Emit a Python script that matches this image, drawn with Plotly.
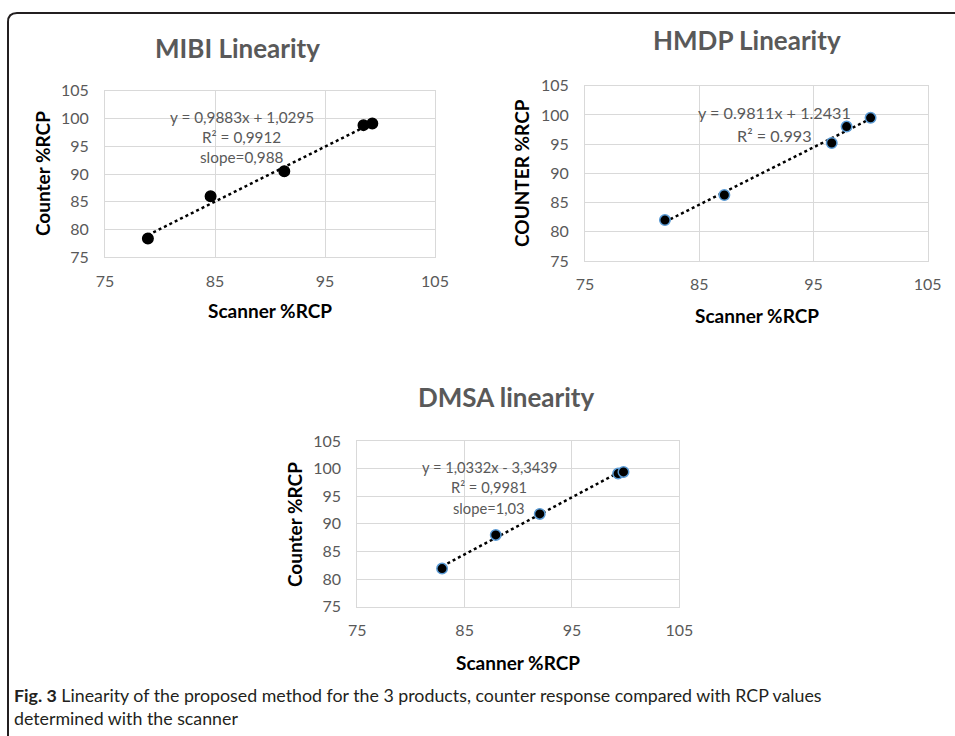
import plotly.graph_objects as go

W, H = 955, 736

# ---- data ----
mibi_x = [78.9, 84.6, 91.3, 98.5, 99.3]
mibi_y = [78.4, 86.0, 90.5, 98.8, 99.1]
mibi_fit = (0.9883, 1.0295)

hmdp_x = [82.0, 87.2, 96.6, 97.9, 100.0]
hmdp_y = [82.0, 86.3, 95.2, 98.0, 99.5]
hmdp_fit = (0.9811, 1.2431)

dmsa_x = [82.9, 87.9, 92.0, 99.3, 99.8]
dmsa_y = [81.9, 88.0, 91.8, 99.1, 99.4]
dmsa_fit = (1.0332, -3.3439)

tick_vals = [75, 85, 95, 105]
ytick_vals = [75, 80, 85, 90, 95, 100, 105]

FONT = "Lato"
GRAY = "#595959"
GRID = "#D9D9D9"

def px(x):
    return x / W

def py(y):
    return 1 - y / H

fig = go.Figure()

panels = [
    ("MIBI", mibi_x, mibi_y, mibi_fit, "", (105, 435, 90.7, 257.3), "black"),
    ("HMDP", hmdp_x, hmdp_y, hmdp_fit, "2", (585, 927.7, 85.7, 261), "#5B9BD5"),
    ("DMSA", dmsa_x, dmsa_y, dmsa_fit, "3", (357.3, 679.3, 441, 606.7), "#5B9BD5"),
]

for name, xs, ys, fit, sfx, box, outline in panels:
    m, b = fit
    x0, x1 = min(xs), max(xs)
    fig.add_trace(go.Scatter(
        x=[x0, x1], y=[m * x0 + b, m * x1 + b], mode="lines",
        line=dict(color="black", width=2.5, dash="dot"),
        xaxis="x" + sfx, yaxis="y" + sfx, showlegend=False, hoverinfo="skip"))
    fig.add_trace(go.Scatter(
        x=xs, y=ys, mode="markers",
        marker=dict(color="black", size=10.5, line=dict(color=outline, width=1.5)),
        xaxis="x" + sfx, yaxis="y" + sfx, showlegend=False, name=name))
    l, r, t, btm = box
    common = dict(showgrid=True, gridcolor=GRID, gridwidth=1, zeroline=False,
                  showline=True, linecolor=GRID, linewidth=1, mirror=True,
                  ticks="", tickfont=dict(family=FONT, size=16, color=GRAY),
                  automargin=False)
    fig.layout["xaxis" + sfx] = dict(
        domain=[px(l), px(r)], range=[75, 105], tickvals=tick_vals,
        anchor="y" + sfx, ticklabelstandoff=9, **common)
    fig.layout["yaxis" + sfx] = dict(
        domain=[py(btm), py(t)], range=[75, 105], tickvals=ytick_vals,
        anchor="x" + sfx, ticklabelstandoff=12, **common)

annotations = []

def ann(text, x, y, size, color=GRAY, bold=False, angle=0, xanchor="center", family=FONT):
    if bold:
        text = "<b>" + text + "</b>"
    annotations.append(dict(text=text, x=px(x), y=py(y), xref="paper", yref="paper",
                            showarrow=False, xanchor=xanchor, yanchor="middle",
                            textangle=angle,
                            font=dict(family=family, size=size, color=color)))

# titles
ann("MIBI Linearity", 237, 48, 26, bold=True)
ann("HMDP Linearity", 747, 40, 26, bold=True)
ann("DMSA linearity", 506, 397, 26, bold=True)

# axis titles
ann("Scanner %RCP", 270, 310, 19, color="black", bold=True)
ann("Scanner %RCP", 757, 315, 19, color="black", bold=True)
ann("Scanner %RCP", 518, 662, 19, color="black", bold=True)
ann("Counter %RCP", 42, 174, 19, color="black", bold=True, angle=-90)
ann("COUNTER %RCP", 522, 173, 19, color="black", bold=True, angle=-90)
ann("Counter %RCP", 294, 525, 19, color="black", bold=True, angle=-90)

# equations
ann("y = 0,9883x + 1,0295", 242, 117, 15.3)
ann("R² = 0,9912", 242, 137, 15.3)
ann("slope=0,988", 242, 157, 15.3)
ann("y = 0.9811x + 1.2431", 774, 113, 16.2)
ann("R² = 0.993", 774, 136, 16.2)
ann("y = 1,0332x - 3,3439", 489, 467, 14.7)
ann("R² = 0,9981", 489, 487, 14.7)
ann("slope=1,03", 489, 508, 14.7)

# caption
ann("<b>Fig. 3</b> Linearity of the proposed method for the 3 products, counter response compared with RCP values",
    12, 695, 17.8, color="#231F20", xanchor="left")
ann("determined with the scanner", 12, 718, 17.8, color="#231F20", xanchor="left")

fig.update_layout(annotations=annotations)

# rounded frame (top and left edges visible)
r = 9
path = (f"M {px(960)} {py(13)} L {px(8 + r)} {py(13)} "
        f"Q {px(8)} {py(13)} {px(8)} {py(13 + r)} L {px(8)} {py(745)}")
fig.add_shape(type="path", path=path, xref="paper", yref="paper",
              line=dict(color="#231F20", width=2))

fig.update_layout(width=W, height=H, autosize=False,
                  margin=dict(l=0, r=0, t=0, b=0, pad=0),
                  paper_bgcolor="white", plot_bgcolor="white",
                  font=dict(family=FONT))

fig.write_html("out.html", config={"displayModeBar": False},
               post_script="document.body.style.margin='0';document.body.style.overflow='hidden';")
